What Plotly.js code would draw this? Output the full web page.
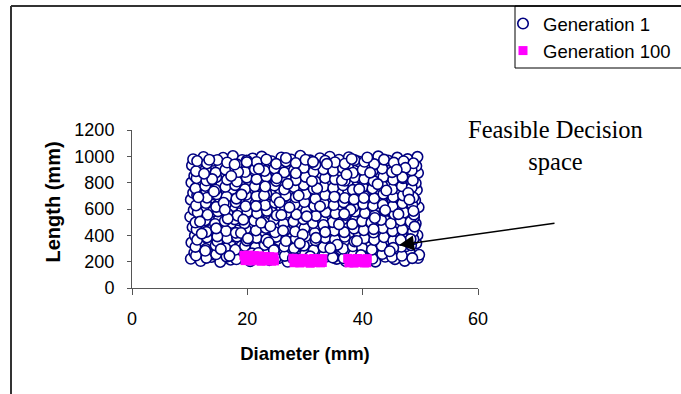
<!DOCTYPE html>
<html>
<head>
<meta charset="utf-8">
<script src="https://cdn.plot.ly/plotly-3.0.1.min.js"></script>
<style>html,body{margin:0;padding:0;background:#fff;}#chart{width:681px;height:394px;}</style>
</head>
<body>
<div id="chart"></div>
<script>
// Generation 1 population (diameter mm, length mm)
const gen1Diameter = [
10.2,11.9,13.8,15.3,17.1,18.7,20.5,22.0,23.8,25.4,27.0,28.9,30.4,32.1,33.8,35.5,37.1,38.8,40.6,42.2,43.9,45.6,47.3,49.6,
10.8,12.6,14.1,16.0,17.6,19.4,21.1,22.7,24.5,26.1,27.8,29.5,31.1,32.9,34.4,36.2,37.8,39.5,41.3,42.9,44.7,46.3,48.1,49.8,
10.3,11.8,13.5,15.4,17.0,18.9,20.4,22.2,23.9,25.6,27.3,28.8,30.7,32.3,34.0,35.7,37.4,39.0,40.8,42.5,44.1,45.9,47.5,49.3,
10.9,12.4,14.3,15.8,17.7,19.2,21.0,22.6,24.3,26.0,27.6,29.3,30.9,32.7,34.3,36.0,37.7,39.3,41.0,42.7,44.4,46.1,47.8,49.5,
10.5,12.2,13.9,15.6,17.3,18.8,20.7,22.3,24.0,25.7,27.4,29.0,30.6,32.4,34.1,35.8,37.5,39.1,40.9,42.4,44.2,45.8,47.6,49.2,
10.1,11.7,13.6,15.1,17.0,18.5,20.2,21.9,23.6,25.3,26.9,28.7,30.3,31.9,33.7,35.3,37.0,38.7,40.4,42.0,43.8,45.4,47.1,48.9,
10.7,12.5,14.0,15.9,17.5,19.1,20.9,22.5,24.2,25.9,27.5,29.2,30.8,32.6,34.2,35.9,37.6,39.2,40.9,42.6,44.3,46.0,47.7,49.7,
10.2,11.9,13.7,15.3,16.9,18.7,20.4,22.1,23.8,25.5,27.2,28.8,30.5,32.2,33.9,35.6,37.3,39.0,40.7,42.3,44.0,45.7,47.4,49.1,
10.6,12.3,14.2,15.7,17.4,19.0,20.8,22.4,24.1,25.8,27.4,29.1,30.8,32.5,34.2,35.8,37.5,39.2,40.8,42.5,44.2,45.9,47.6,49.4,
10.3,12.0,13.8,15.5,17.1,18.9,20.5,22.2,23.9,25.6,27.3,29.0,30.6,32.3,34.0,35.7,37.4,39.1,40.7,42.4,44.1,45.8,47.5,49.2,
10.8,12.5,14.1,15.9,17.6,19.3,21.0,22.6,24.4,26.0,27.7,29.4,31.0,32.7,34.4,36.1,37.7,39.4,41.1,42.8,44.5,46.2,47.9,49.6,
10.4,12.1,13.9,15.4,17.2,18.8,20.6,22.3,24.0,25.7,27.3,29.1,30.7,32.4,34.1,35.8,37.5,39.2,40.9,42.6,44.2,45.9,47.6,49.3,
10.6,12.4,14.0,15.8,17.5,19.1,20.9,22.5,24.2,25.9,27.6,29.2,30.9,32.6,34.3,35.9,37.6,39.3,41.0,42.7,44.4,46.0,47.8,49.5,
11.1,12.9,14.6,16.4,18.1,19.8,21.5,23.1,24.9,26.5,28.2,30.0,31.6,33.3,35.0,36.7,38.4,40.0,41.7,43.4,45.1,46.8,48.6,
11.0,12.8,14.5,16.2,17.9,19.6,21.4,23.0,24.7,26.4,28.1,29.8,31.5,33.2,34.9,36.6,38.3,39.9,41.6,43.3,45.0,46.7,48.4,
11.3,13.0,14.8,16.5,18.2,19.9,21.6,23.3,25.0,26.7,28.4,30.1,31.8,33.5,35.2,36.9,38.6,40.3,42.0,43.7,45.3,47.0,48.8,
11.2,12.9,14.7,16.3,18.0,19.7,21.5,23.2,24.8,26.6,28.3,29.9,31.7,33.4,35.1,36.8,38.5,40.2,41.9,43.5,45.2,46.9,48.7,
11.0,12.7,14.4,16.1,17.8,19.5,21.2,22.9,24.6,26.3,28.0,29.7,31.4,33.1,34.8,36.5,38.2,39.9,41.5,43.2,44.9,46.6,48.3,
11.4,13.1,14.9,16.6,18.3,20.0,21.7,23.4,25.1,26.8,28.5,30.2,31.9,33.6,35.3,37.0,38.7,40.4,42.1,43.8,45.5,47.2,48.9,
11.1,12.8,14.6,16.3,18.0,19.7,21.4,23.1,24.8,26.5,28.2,29.9,31.6,33.3,35.0,36.7,38.4,40.1,41.8,43.5,45.2,46.9,48.6,
11.3,13.0,14.7,16.4,18.1,19.8,21.6,23.3,25.0,26.7,28.4,30.1,31.8,33.5,35.2,36.9,38.6,40.3,42.0,43.6,45.3,47.0,48.8,
11.0,12.7,14.5,16.2,17.9,19.6,21.3,23.0,24.7,26.4,28.1,29.8,31.5,33.2,34.9,36.6,38.3,40.0,41.7,43.4,45.1,46.8,48.5,
11.2,12.9,14.6,16.5,18.2,19.9,21.6,23.3,25.0,26.7,28.4,30.1,31.8,33.5,35.2,36.9,38.6,40.3,41.9,43.6,45.3,47.0,48.7,
11.1,12.8,14.5,16.2,17.9,19.6,21.3,23.0,24.7,26.4,28.1,29.8,31.5,33.2,34.9,36.6,38.3,40.0,41.7,43.4,45.1,46.8,48.5,
11.3,13.0,14.8,16.5,18.2,19.9,21.6,23.3,25.0,26.7,28.4,30.1,31.8,33.5,35.2,36.9,38.6,40.3,42.0,43.7,45.4,47.1,48.8,
12.7,27.3,41.9,18.4,35.6,22.9,46.2,14.8,31.4,39.7,25.1,48.3,16.6,33.2,20.8,44.1,11.5,29.6,37.9,23.7,
47.4,15.9,34.8,42.6,19.3,28.4,13.4,38.5,26.2,45.3,21.5,32.1,17.2,40.8,30.3,49.0,24.6,36.4,12.1,43.5,
27.9,19.9,35.1,46.9,14.2,31.9,22.4,39.0,16.1,28.9,41.3,25.6,48.8,33.8,18.9,44.7,11.8,37.2,23.1,30.9,
13.9,42.1,26.7,35.9,20.1,47.9,15.4,32.6,39.4,24.0,45.9,17.8,29.1,36.8,12.5,40.2,21.9,33.5,27.0,43.9,
19.0,34.4,14.6,46.6,25.9,38.1,22.0,31.2,48.1,16.9
];
const gen1Length = [
222,205,236,198,215,230,204,241,212,226,199,234,217,207,239,221,203,232,214,200,237,219,206,228,
268,290,255,281,300,262,287,271,296,258,283,266,302,276,251,289,270,297,259,284,265,293,277,252,
345,322,358,331,349,316,362,338,325,353,341,318,359,333,347,320,356,336,343,361,328,350,317,339,
398,420,385,411,392,428,403,389,417,396,425,383,408,419,391,426,400,414,387,409,423,395,412,401,
462,485,451,477,494,458,470,489,447,481,466,493,455,474,487,449,478,461,491,468,452,483,472,490,
541,520,556,529,548,514,537,559,524,545,531,553,518,539,527,557,534,515,549,526,543,558,521,536,
593,615,581,607,622,588,603,619,579,610,596,625,584,605,617,590,612,580,599,621,587,609,594,614,
671,650,686,659,677,645,668,689,654,674,661,683,648,670,657,687,664,646,679,656,673,688,651,666,
723,745,711,737,752,718,733,749,709,740,726,755,714,735,747,720,742,710,729,751,717,739,724,744,
801,780,816,789,807,775,798,819,784,804,791,813,778,800,787,817,794,776,809,786,803,818,781,796,
853,875,841,867,882,848,863,879,839,870,856,885,844,865,877,850,872,840,859,881,847,869,854,874,
931,910,946,919,937,905,928,949,914,934,921,943,908,930,917,947,924,906,939,916,933,948,911,926,
978,995,966,989,1002,972,984,998,963,991,976,1004,969,986,997,974,993,961,981,1000,968,990,979,996,
247,229,256,238,218,251,233,260,224,244,231,257,220,249,236,226,254,241,222,258,235,245,227,
312,296,324,303,290,319,308,327,293,315,301,322,288,310,326,298,317,305,291,320,300,313,325,
366,384,355,378,391,360,381,368,388,357,375,393,362,380,369,389,354,377,365,386,359,383,371,
444,426,452,433,419,448,437,456,423,441,429,454,418,446,435,424,451,439,421,455,432,443,427,
497,515,486,509,521,491,512,499,518,488,506,523,493,511,500,520,485,508,496,517,490,513,503,
574,556,582,563,549,578,567,586,553,571,559,584,548,576,565,554,581,569,551,585,562,573,557,
627,645,616,639,651,621,642,629,648,618,636,653,623,641,630,650,615,638,626,647,620,643,633,
704,686,712,693,679,708,697,716,683,701,689,714,678,706,695,684,711,699,681,715,692,703,687,
757,775,746,769,781,751,772,759,778,748,766,783,753,771,760,780,745,768,756,777,750,773,763,
834,816,842,823,809,838,827,846,813,831,819,844,808,836,825,814,841,829,811,845,822,833,817,
887,905,876,899,911,881,902,889,908,878,896,913,883,901,890,910,875,898,886,907,880,903,893,
964,946,972,953,939,968,957,976,943,961,949,974,938,966,955,944,971,959,941,975,952,963,947,
283,612,447,881,329,704,561,392,958,250,833,371,527,478,263,740,689,405,594,346,
912,647,231,789,519,871,974,673,436,305,622,757,851,991,544,466,287,818,413,632,
226,956,693,842,733,381,495,357,594,702,876,651,585,943,418,279,504,862,771,240,
827,532,987,483,377,722,295,620,751,469,898,938,339,563,868,684,266,424,791,591,
709,302,453,364,555,980,905,811,671,244
];
// Generation 100 population: three tight clusters near the minimum length
const gen100Diameter = [
19.4,20.3,21.2,22.1,23.0,23.9,24.6, 19.6,20.6,21.5,22.4,23.3,24.2,24.7,
27.9,28.8,29.7,30.6,31.5,32.4,33.1, 28.1,29.1,30.0,30.9,31.8,32.7,33.0,
37.4,38.2,39.1,40.0,40.8, 37.6,38.5,39.4,40.3,40.7
];
const gen100Length = [
248,250,246,244,240,238,236, 208,205,210,203,207,204,206,
226,222,225,220,224,221,223, 192,190,195,188,193,191,194,
225,221,224,220,223, 191,189,194,190,192
];
const seriesNames = ["Generation 1", "Generation 100"];
const xTickVals = [0, 20, 40, 60];
const yTickVals = [0, 200, 400, 600, 800, 1000, 1200];
const xTitle = "Diameter (mm)";
const yTitle = "Length (mm)";
const noteText = "Feasible Decision<br>space";

// layout geometry (pixels)
const W = 681, H = 394, M = {l: 132, r: 203, t: 130, b: 106};
const PW = W - M.l - M.r, PH = H - M.t - M.b;
const px = x => (x - M.l) / PW;
const py = y => (H - M.b - y) / PH;

const sans = "Liberation Sans, Arial, sans-serif";

const traces = [
  {
    x: gen1Diameter, y: gen1Length, name: seriesNames[0],
    type: "scatter", mode: "markers",
    marker: {symbol: "circle", size: 10.5, color: "#ffffff", line: {color: "#000080", width: 1.6}},
    hoverinfo: "x+y"
  },
  {
    x: gen100Diameter, y: gen100Length, name: seriesNames[1],
    type: "scatter", mode: "markers",
    marker: {symbol: "square", size: 9, color: "#ff00ff", line: {width: 0}},
    hoverinfo: "x+y"
  }
];

const layout = {
  width: W, height: H,
  margin: M,
  paper_bgcolor: "#ffffff", plot_bgcolor: "#ffffff",
  font: {family: sans, color: "#000000", size: 17},
  showlegend: true,
  legend: {
    xref: "container", yref: "container",
    x: 503 / W, y: 1 - 5 / H, xanchor: "left", yanchor: "top",
    bgcolor: "rgba(0,0,0,0)", borderwidth: 0,
    font: {family: sans, size: 18.5, color: "#000"},
    tracegroupgap: 0
  },
  xaxis: {
    range: [0, 60], tickvals: xTickVals, ticktext: xTickVals.map(String),
    showgrid: false, zeroline: false,
    showline: true, linecolor: "#555", linewidth: 1,
    ticks: "outside", ticklen: 6, tickcolor: "#555", tickwidth: 1,
    ticklabelstandoff: 8,
    tickfont: {family: sans, size: 18, color: "#000"},
    title: {text: xTitle, font: {family: sans, size: 18.5, color: "#000", weight: "bold"}, standoff: 19},
    fixedrange: true
  },
  yaxis: {
    range: [0, 1200], tickvals: yTickVals, ticktext: yTickVals.map(String),
    showgrid: false, zeroline: false,
    showline: true, linecolor: "#555", linewidth: 1,
    ticks: "outside", ticklen: 4, tickcolor: "#555", tickwidth: 1,
    ticklabelstandoff: 9,
    tickfont: {family: sans, size: 18, color: "#000"},
    fixedrange: true
  },
  shapes: [
    // outer chart frame (top and left edges visible)
    {type: "line", layer: "above", xref: "paper", yref: "paper", x0: px(11), x1: px(W + 5), y0: py(6), y1: py(6), line: {color: "#333", width: 2}},
    {type: "line", layer: "above", xref: "paper", yref: "paper", x0: px(11), x1: px(11), y0: py(6), y1: py(H + 5), line: {color: "#333", width: 2}},
    // legend box
    {type: "rect", layer: "above", xref: "paper", yref: "paper", x0: px(515), x1: px(W + 10), y0: py(68), y1: py(6), line: {color: "#000", width: 1}, fillcolor: "rgba(0,0,0,0)"}
  ],
  annotations: [
    {
      xref: "paper", yref: "paper", x: px(52), y: py(202.5), xanchor: "center", yanchor: "middle",
      text: yTitle, textangle: -90, showarrow: false,
      font: {family: sans, size: 20, color: "#000", weight: "bold"}
    },
    {
      xref: "paper", yref: "paper", x: px(555), y: py(145), xanchor: "center", yanchor: "middle",
      text: noteText, showarrow: false, align: "center",
      font: {family: "Liberation Serif, Times New Roman, serif", size: 24.5, color: "#000"}
    },
    {
      x: 46.3, y: 326, xref: "x", yref: "y", text: "", showarrow: true,
      axref: "pixel", ayref: "pixel", ax: 157, ay: -22,
      arrowhead: 2, arrowsize: 2, arrowwidth: 1.5, arrowcolor: "#000", standoff: 0
    }
  ]
};

Plotly.newPlot("chart", traces, layout, {staticPlot: true, displayModeBar: false});
</script>
</body>
</html>
